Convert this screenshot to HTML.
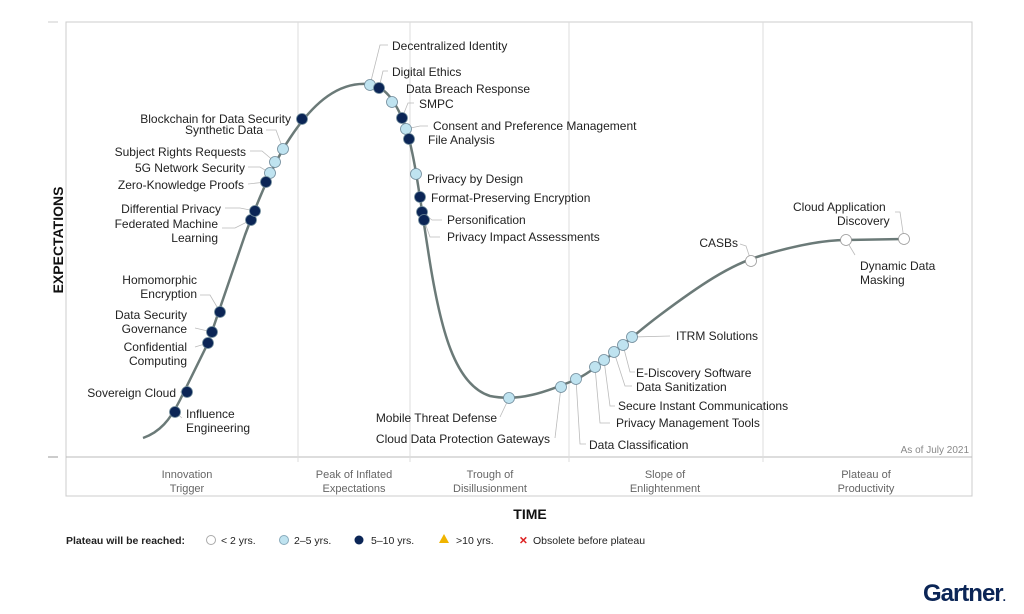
<!DOCTYPE html>
<html><head><meta charset="utf-8"><style>
body{margin:0;background:#fff;}
svg{display:block;font-family:"Liberation Sans",sans-serif;}
.l{font-size:12px;fill:#222;}
.p{font-size:11px;fill:#666;text-anchor:middle;}
.ld{stroke:#bbb;stroke-width:0.8;fill:none;}
</style></head><body>
<svg width="1024" height="614" viewBox="0 0 1024 614">
<rect x="66" y="22" width="906" height="474" fill="#fff" stroke="#ccc"/>
<line x1="66" y1="457" x2="972" y2="457" stroke="#bbb"/>
<g stroke="#ddd">
<line x1="298" y1="22" x2="298" y2="462"/><line x1="410" y1="22" x2="410" y2="462"/>
<line x1="569" y1="22" x2="569" y2="462"/><line x1="763" y1="22" x2="763" y2="462"/>
</g>
<line x1="48" y1="22" x2="58" y2="22" stroke="#ccc"/><line x1="48" y1="457" x2="58" y2="457" stroke="#999"/>
<text transform="translate(63,240) rotate(-90)" text-anchor="middle" font-size="14" font-weight="bold" fill="#111">EXPECTATIONS</text>
<text x="530" y="519" text-anchor="middle" font-size="14" font-weight="bold" fill="#111">TIME</text>
<text class="p" x="187" y="478">Innovation</text><text class="p" x="187" y="492">Trigger</text>
<text class="p" x="354" y="478">Peak of Inflated</text><text class="p" x="354" y="492">Expectations</text>
<text class="p" x="490" y="478">Trough of</text><text class="p" x="490" y="492">Disillusionment</text>
<text class="p" x="665" y="478">Slope of</text><text class="p" x="665" y="492">Enlightenment</text>
<text class="p" x="866" y="478">Plateau of</text><text class="p" x="866" y="492">Productivity</text>
<text x="969" y="453" text-anchor="end" font-size="10" fill="#888">As of July 2021</text>
<path d="M143,438 C160,432 170,420 180,400 L208,343 L245,235 C260,195 275,160 290,138 C315,100 340,82 368,84 C385,86 395,100 405,125 C415,155 420,200 428,250 C440,330 455,385 490,396 C520,402 545,392 575,380 C600,368 620,345 660,315 C700,285 730,265 760,256 C790,247 820,240 846,240 L904,239" fill="none" stroke="#6b7a78" stroke-width="2.5"/>
<g class="ld">
<path d="M370,85 L380,45 L388,45"/><path d="M379,88 L383,71 L388,71"/><path d="M402,118 L408,103 L414,103"/>
<path d="M406,129 L420,126 L428,126"/><path d="M283,149 L276,130 L266,130"/><path d="M275,162 L262,151 L250,151"/>
<path d="M270,173 L260,167 L248,167"/><path d="M266,182 L248,184"/><path d="M255,211 L240,208 L225,208"/>
<path d="M251,220 L235,228 L222,228"/><path d="M220,312 L210,295 L200,295"/><path d="M212,332 L195,328"/>
<path d="M208,343 L195,347"/><path d="M187,392 L180,392"/><path d="M175,412 L182,418"/>
<path d="M424,220 L430,237 L440,237"/><path d="M422,212 L432,220 L442,220"/>
<path d="M509,398 L500,417"/><path d="M561,387 L555,438"/><path d="M576,379 L580,444 L586,444"/>
<path d="M595,367 L600,423 L610,423"/><path d="M604,360 L610,406 L615,406"/><path d="M614,352 L625,386 L632,386"/>
<path d="M623,345 L630,372 L635,372"/><path d="M632,337 L670,336"/><path d="M751,261 L746,246 L740,244"/>
<path d="M846,240 L855,255"/><path d="M904,239 L900,212 L895,212"/>
</g>
<g stroke="#6f8a9a" stroke-width="0.8">
<g fill="#bfe3f0"><circle cx="283" cy="149" r="5.5"/><circle cx="275" cy="162" r="5.5"/><circle cx="270" cy="173" r="5.5"/><circle cx="370" cy="85" r="5.5"/><circle cx="392" cy="102" r="5.5"/><circle cx="406" cy="129" r="5.5"/><circle cx="416" cy="174" r="5.5"/><circle cx="509" cy="398" r="5.5"/><circle cx="561" cy="387" r="5.5"/><circle cx="576" cy="379" r="5.5"/><circle cx="595" cy="367" r="5.5"/><circle cx="604" cy="360" r="5.5"/><circle cx="614" cy="352" r="5.5"/><circle cx="623" cy="345" r="5.5"/><circle cx="632" cy="337" r="5.5"/></g>
<g fill="#0b2556"><circle cx="175" cy="412" r="5.5"/><circle cx="187" cy="392" r="5.5"/><circle cx="208" cy="343" r="5.5"/><circle cx="212" cy="332" r="5.5"/><circle cx="220" cy="312" r="5.5"/><circle cx="251" cy="220" r="5.5"/><circle cx="255" cy="211" r="5.5"/><circle cx="266" cy="182" r="5.5"/><circle cx="302" cy="119" r="5.5"/><circle cx="379" cy="88" r="5.5"/><circle cx="402" cy="118" r="5.5"/><circle cx="409" cy="139" r="5.5"/><circle cx="420" cy="197" r="5.5"/><circle cx="422" cy="212" r="5.5"/><circle cx="424" cy="220" r="5.5"/></g>
<g fill="#fff" stroke="#999"><circle cx="751" cy="261" r="5.5"/><circle cx="846" cy="240" r="5.5"/><circle cx="904" cy="239" r="5.5"/></g>
</g>
<g class="l">
<text x="392" y="50">Decentralized Identity</text><text x="392" y="76">Digital Ethics</text>
<text x="406" y="93">Data Breach Response</text><text x="419" y="108">SMPC</text>
<text x="433" y="130">Consent and Preference Management</text><text x="428" y="144">File Analysis</text>
<text x="427" y="183">Privacy by Design</text><text x="431" y="202">Format-Preserving Encryption</text>
<text x="447" y="224">Personification</text><text x="447" y="241">Privacy Impact Assessments</text>
<g text-anchor="end">
<text x="291" y="123">Blockchain for Data Security</text><text x="263" y="134">Synthetic Data</text>
<text x="246" y="156">Subject Rights Requests</text><text x="245" y="172">5G Network Security</text>
<text x="244" y="189">Zero-Knowledge Proofs</text><text x="221" y="213">Differential Privacy</text>
<text x="218" y="228">Federated Machine</text><text x="218" y="242">Learning</text>
<text x="197" y="284">Homomorphic</text><text x="197" y="298">Encryption</text>
<text x="187" y="319">Data Security</text><text x="187" y="333">Governance</text>
<text x="187" y="351">Confidential</text><text x="187" y="365">Computing</text>
<text x="176" y="397">Sovereign Cloud</text>
<text x="497" y="422">Mobile Threat Defense</text><text x="550" y="443">Cloud Data Protection Gateways</text>
<text x="738" y="247">CASBs</text>
</g>
<text x="186" y="418">Influence</text><text x="186" y="432">Engineering</text>
<text x="589" y="449">Data Classification</text><text x="616" y="427">Privacy Management Tools</text>
<text x="618" y="410">Secure Instant Communications</text><text x="636" y="391">Data Sanitization</text>
<text x="636" y="377">E-Discovery Software</text><text x="676" y="340">ITRM Solutions</text>
<text x="793" y="211">Cloud Application</text><text x="837" y="225">Discovery</text>
<text x="860" y="270">Dynamic Data</text><text x="860" y="284">Masking</text>
</g>
<g font-size="10.5" fill="#222">
<text x="66" y="544" font-weight="bold">Plateau will be reached:</text>
<circle cx="211" cy="540" r="4.5" fill="#fff" stroke="#aaa"/><text x="221" y="544">&lt; 2 yrs.</text>
<circle cx="284" cy="540" r="4.5" fill="#bfe3f0" stroke="#8ab"/><text x="294" y="544">2–5 yrs.</text>
<circle cx="359" cy="540" r="4.5" fill="#0b2556"/><text x="371" y="544">5–10 yrs.</text>
<polygon points="444,534 449,543 439,543" fill="#f0b400"/><text x="456" y="544">&gt;10 yrs.</text>
<text x="519" y="544" fill="#d22" font-weight="bold">✕</text><text x="533" y="544">Obsolete before plateau</text>
</g>
<text x="1005" y="601" text-anchor="end" font-size="24" font-weight="bold" fill="#0b2556" letter-spacing="-1">Gartner<tspan fill="#0b2556" font-size="12">.</tspan></text>
</svg>
</body></html>
